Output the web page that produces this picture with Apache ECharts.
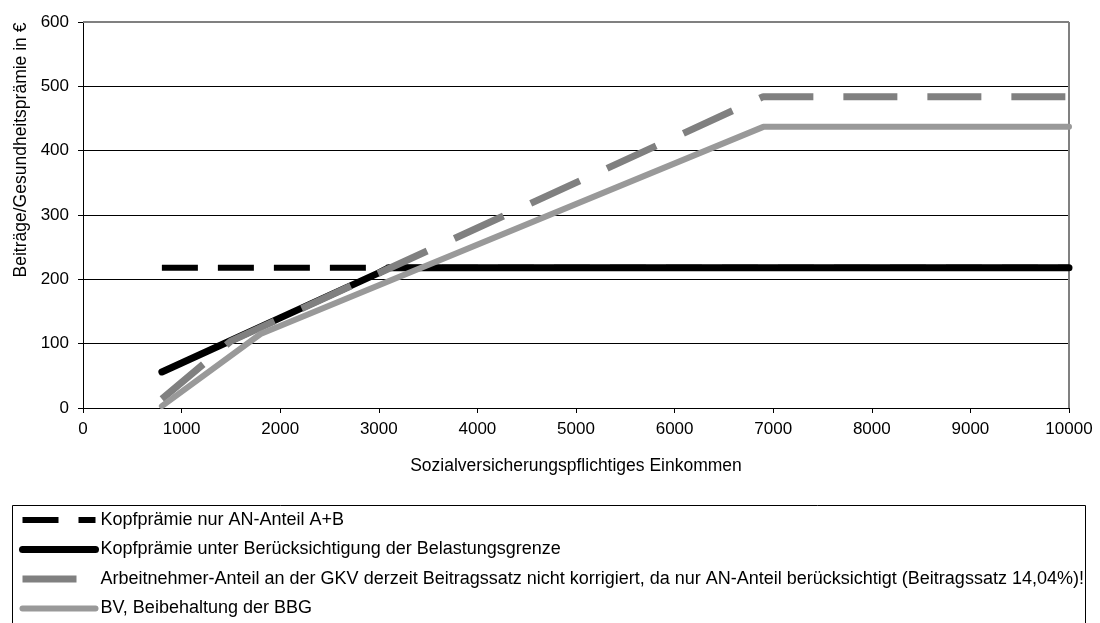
<!DOCTYPE html>
<html>
<head>
<meta charset="utf-8">
<script src="https://cdn.jsdelivr.net/npm/echarts@6/dist/echarts.min.js"></script>
<style>
html,body{margin:0;padding:0;background:#fff;}
#c{width:1100px;height:623px;}
</style>
</head>
<body>
<div id="c"></div>
<script>
// ---- data ----
const seriesNames = [
  'Kopfprämie nur AN-Anteil A+B',
  'Kopfprämie unter Berücksichtigung der Belastungsgrenze',
  'Arbeitnehmer-Anteil an der GKV derzeit Beitragssatz nicht korrigiert, da nur AN-Anteil berücksichtigt (Beitragssatz 14,04%)!',
  'BV, Beibehaltung der BBG'
];
const kopfNurX = [800, 10000];
const kopfNurY = [218, 218];
const kopfBelX = [800, 1000, 1500, 2000, 2500, 3000, 3100, 10000];
const kopfBelY = [56, 70, 105, 140, 175, 210, 218, 218];
const anAnteilX = [800, 1500, 6900, 10000];
const anAnteilY = [14, 104, 484, 484];
const bvX = [800, 1800, 6900, 10000];
const bvY = [3, 115, 437, 437];
const xTicks = [0, 1000, 2000, 3000, 4000, 5000, 6000, 7000, 8000, 9000, 10000];
const yTicks = [0, 100, 200, 300, 400, 500, 600];

const pair = (xs, ys) => xs.map((x, i) => [x, ys[i]]);
const FONT = 'Liberation Sans, Arial, sans-serif';

const chart = echarts.init(document.getElementById('c'), null, {renderer: 'canvas'});
const splitColors = yTicks.map((t, i) => i === yTicks.length - 1 ? '#808080' : '#000');

const styles = [
  {color: '#000', width: 6, type: [36, 20], cap: 'butt'},
  {color: '#000', width: 7, type: 'solid', cap: 'round'},
  {color: '#808080', width: 7, type: [54, 30], cap: 'butt'},
  {color: '#999999', width: 6, type: 'solid', cap: 'round'}
];

chart.setOption({
  animation: false,
  backgroundColor: '#fff',
  textStyle: {fontFamily: FONT},
  grid: {left: 83, right: 31, top: 22, bottom: 215, show: false},
  xAxis: {
    type: 'value',
    min: xTicks[0], max: xTicks[xTicks.length - 1], interval: 1000,
    name: 'Sozialversicherungspflichtiges Einkommen',
    nameLocation: 'middle', nameGap: 49,
    nameTextStyle: {fontFamily: FONT, fontSize: 17.5, color: '#000'},
    axisLine: {show: true, lineStyle: {color: '#000', width: 1}},
    axisTick: {show: true, length: 5, lineStyle: {color: '#000'}},
    axisLabel: {fontFamily: FONT, fontSize: 17, color: '#000', margin: 13, formatter: v => String(v)},
    splitLine: {show: false}
  },
  yAxis: {
    type: 'value',
    min: yTicks[0], max: yTicks[yTicks.length - 1], interval: 100,
    name: 'Beiträge/Gesundheitsprämie in €',
    nameLocation: 'middle', nameGap: 53, nameRotate: 90,
    nameTextStyle: {fontFamily: FONT, fontSize: 17.5, color: '#000', padding: [0, 0, 0, 130]},
    axisLine: {show: true, lineStyle: {color: '#000', width: 1}},
    axisTick: {show: true, length: 5, lineStyle: {color: '#000'}},
    axisLabel: {fontFamily: FONT, fontSize: 17, color: '#000', margin: 14, formatter: v => String(v)},
    splitLine: {show: true, lineStyle: {color: splitColors, width: 1}}
  },
  graphic: [
    {type: 'line', shape: {x1: 1069, y1: 22, x2: 1069, y2: 408}, style: {stroke: '#808080', lineWidth: 2}, z: 1},
    {type: 'line', shape: {x1: 83, y1: 22, x2: 1069, y2: 22}, style: {stroke: '#808080', lineWidth: 2}, z: 1},
    {type: 'rect', shape: {x: 12.5, y: 505.5, width: 1073, height: 140}, style: {fill: 'none', stroke: '#000', lineWidth: 1}, z: 0}
  ],
  legend: {
    orient: 'vertical',
    left: 19, top: 510, padding: 0,
    itemWidth: 73, itemHeight: 8, itemGap: 9.5,
    itemStyle: {opacity: 0},
    textStyle: {fontFamily: FONT, fontSize: 18, color: '#000', lineHeight: 20},
    data: seriesNames.map((n, i) => ({name: n, lineStyle: {width: styles[i].width, type: styles[i].type, cap: styles[i].cap, color: styles[i].color}}))
  },
  series: seriesNames.map((n, i) => ({
    name: n, type: 'line',
    data: [pair(kopfNurX, kopfNurY), pair(kopfBelX, kopfBelY), pair(anAnteilX, anAnteilY), pair(bvX, bvY)][i],
    symbol: 'none',
    lineStyle: styles[i],
    itemStyle: {color: styles[i].color}
  }))
});
</script>
</body>
</html>
